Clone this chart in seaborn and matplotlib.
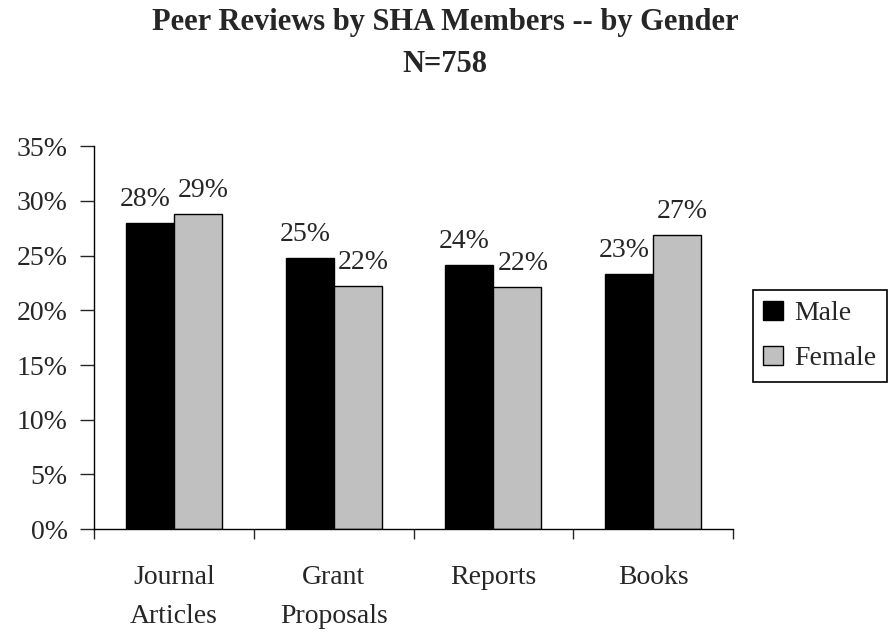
import pandas as pd
import matplotlib.pyplot as plt
import seaborn as sns
from matplotlib.ticker import FixedLocator, PercentFormatter

# Values (percent of reviews)
categories = ["Journal\nArticles", "Grant\nProposals", "Reports", "Books"]
male = [28.0, 24.8, 24.1, 23.3]
female = [28.8, 22.2, 22.1, 26.9]
genders = ["Male", "Female"]
colors = ["#000000", "#C0C0C0"]

data = pd.DataFrame({
    "Category": categories * 2,
    "Gender": ["Male"] * len(categories) + ["Female"] * len(categories),
    "Percent": male + female,
})

sns.set_style("white")
plt.rcParams["font.family"] = ["Liberation Serif", "DejaVu Serif"]
FS = 20

fig = plt.figure(figsize=(8.96, 6.33), dpi=100)
ax = fig.add_axes([0.105, 0.164, 0.713, 0.605])

sns.barplot(data=data, x="Category", y="Percent", hue="Gender",
            hue_order=genders, palette=colors, width=0.6,
            edgecolor="black", linewidth=1, ax=ax)

# value labels above each bar
for cont, off in zip(ax.containers, [-3.5, 4]):
    for bar in cont:
        h = bar.get_height()
        ax.annotate(f"{round(h)}%", (bar.get_x() + bar.get_width() / 2, h),
                    xytext=(off, 8), textcoords="offset points",
                    ha="center", va="bottom", fontsize=FS)

ax.set_ylim(0, 35)
ax.set_xlim(-0.5, len(categories) - 0.5)
ax.set_yticks(range(0, 36, 5))
ax.yaxis.set_major_formatter(PercentFormatter(decimals=0))
ax.tick_params(axis="y", direction="out", length=10, width=1, labelsize=FS, left=True, pad=9)

# ticks on category boundaries, labels at the centres
ax.xaxis.set_major_locator(FixedLocator([i - 0.5 for i in range(len(categories) + 1)]))
ax.xaxis.set_minor_locator(FixedLocator(range(len(categories))))
ax.set_xticklabels([], minor=False)
ax.set_xticklabels(categories, minor=True, linespacing=1.77)
ax.tick_params(axis="x", which="major", direction="out", length=7, width=1, bottom=True)
ax.tick_params(axis="x", which="minor", length=7, width=0, labelsize=FS, pad=18.5)

ax.set_xlabel("")
ax.set_ylabel("")
sns.despine(ax=ax)
for s in ["left", "bottom"]:
    ax.spines[s].set_color("black")
    ax.spines[s].set_linewidth(1)

ax.legend(loc="center left", bbox_to_anchor=(0.840, 0.469),
          bbox_transform=fig.transFigure, fontsize=FS, frameon=True,
          fancybox=False, edgecolor="black", framealpha=1,
          handlelength=0.72, handleheight=0.68, handletextpad=0.4,
          borderpad=0.38, labelspacing=0.72, borderaxespad=0)
ax.get_legend().get_frame().set_linewidth(1.2)

fig.suptitle("Peer Reviews by SHA Members -- by Gender\nN=758",
             x=0.497, y=0.987, fontsize=22, fontweight="bold", linespacing=1.59)

fig.savefig("out.png", dpi=100)
